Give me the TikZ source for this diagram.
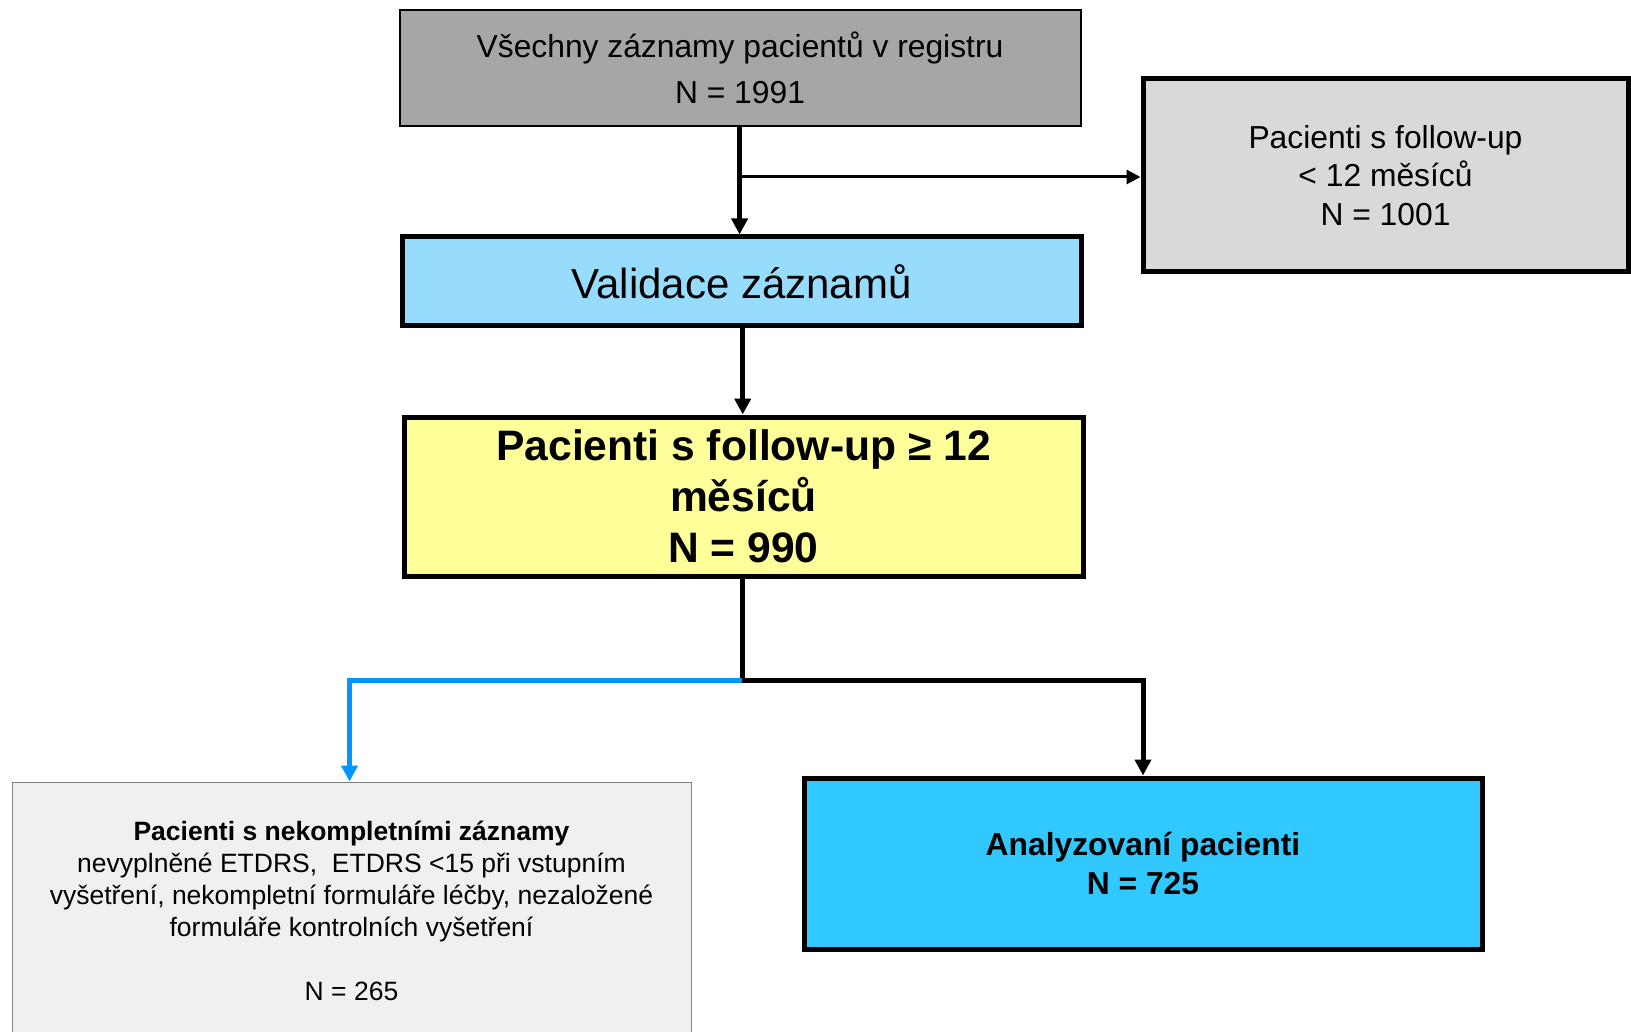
\documentclass[tikz,border=0pt]{standalone}
\usepackage{fontspec}
\setmainfont{Liberation Sans}
\usetikzlibrary{arrows.meta}
\definecolor{topgray}{HTML}{A6A6A6}
\definecolor{rightgray}{HTML}{D9D9D9}
\definecolor{validblue}{HTML}{97DBFD}
\definecolor{yellowbox}{HTML}{FFFF99}
\definecolor{incgray}{HTML}{F0F0F0}
\definecolor{incborder}{HTML}{808080}
\definecolor{cyanbox}{HTML}{30C8FF}
\definecolor{bluearrow}{HTML}{0096FF}
\begin{document}
\begin{tikzpicture}[x=1pt,y=-1pt,
  box/.style={draw=black,rectangle,inner sep=0pt,align=center,text=black},
  thickbox/.style={box,line width=5pt},
  thinbox/.style={box,line width=2pt},
  thickarrow/.style={line width=5pt,-{Triangle[length=16pt,width=16pt]}},
  thinarrow/.style={line width=3pt,-{Triangle[length=14pt,width=14pt]}},
  bluearrowst/.style={draw=bluearrow,line width=5pt,-{Triangle[length=16pt,width=16pt]}}
]
\useasboundingbox (0,0) rectangle (1631,1032);
\fill[white] (0,0) rectangle (1631,1032);

\node[thinbox,fill=topgray,minimum width=681pt,minimum height=116pt,
  font=\fontsize{31.8}{45.8}\selectfont] (top) at (740,67.6)
  {Všechny záznamy pacientů v registru\\N = 1991};

\node[thickbox,fill=rightgray,minimum width=485pt,minimum height=193pt,
  font=\fontsize{31.8}{38.3}\selectfont] (right) at (1385.5,175.5)
  {Pacienti s follow-up\\< 12 měsíců\\N = 1001};

\node[thickbox,fill=validblue,minimum width=679pt,minimum height=89pt,
  font=\fontsize{42}{50}\selectfont] (valid) at (741.5,281.5)
  {Validace záznamů};

\node[thickbox,fill=yellowbox,minimum width=679pt,minimum height=159pt,
  font=\fontsize{42.6}{51}\selectfont\bfseries] (yellow) at (743.5,496.5)
  {Pacienti s follow-up ≥ 12\\měsíců\\N = 990};

\node[box,draw=incborder,line width=1pt,fill=incgray,minimum width=679pt,minimum height=258pt,
  font=\fontsize{26.5}{31.9}\selectfont] (incomplete) at (351.5,911)
  {\textbf{Pacienti s nekompletními záznamy}\\nevyplněné ETDRS,\ \ ETDRS <15 při vstupním\\vyšetření, nekompletní formuláře léčby, nezaložené\\formuláře kontrolních vyšetření\\[31.9pt]N = 265};

\node[thickbox,fill=cyanbox,minimum width=678pt,minimum height=171pt,
  font=\fontsize{31.8}{39.3}\selectfont\bfseries] (analyzed) at (1143,863.5)
  {Analyzovaní pacienti\\N = 725};

% connectors
\coordinate (b1) at (739.6,177);
\draw[thickarrow] (top.south -| b1) -- (valid.north -| b1);
\draw[thinarrow] (b1) -- (b1 -| right.west);
\draw[thickarrow] (valid.south -| 742.7,0) -- (yellow.north -| 742.7,0);
\coordinate (split) at (742,680);
\draw[line width=5pt] (yellow.south -| split) -- (split);
\draw[bluearrowst] (split) -| (incomplete.north -| 349.5,0);
\draw[thickarrow] (split) -| (analyzed.north);
\end{tikzpicture}
\end{document}
